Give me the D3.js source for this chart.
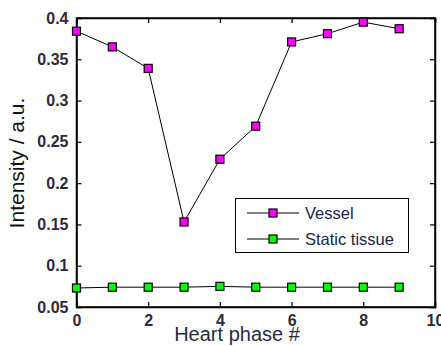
<!DOCTYPE html>
<html><head><meta charset="utf-8">
<script src="https://cdn.jsdelivr.net/npm/d3@7"></script>
<style>body{margin:0;background:#fff}svg{display:block}</style>
</head><body>
<svg id="c" width="441" height="346"></svg>
<script>
const phases = [0,1,2,3,4,5,6,7,8,9];
const vessel = [0.384,0.365,0.339,0.153,0.229,0.269,0.371,0.381,0.395,0.387];
const staticTissue = [0.073,0.074,0.074,0.074,0.075,0.074,0.074,0.074,0.074,0.074];
const xTicks = [0,2,4,6,8,10];
const yTicks = [0.05,0.1,0.15,0.2,0.25,0.3,0.35,0.4];
const seriesNames = ["Vessel","Static tissue"];
const seriesColors = ["#ff00ff","#00ff00"];

const svg = d3.select("#c");
const L=76.5, R=435, T=18, B=307;
const x = d3.scaleLinear().domain([0,10]).range([L,R]);
const y = d3.scaleLinear().domain([0.05,0.4]).range([B,T]);

// frame
svg.append("rect").attr("x",L).attr("y",T).attr("width",R-L).attr("height",B-T)
  .attr("fill","none").attr("stroke","#000").attr("stroke-width",1.5);

const tickCol="#2b2b3b";
const fmt = d=>String(d);
// bottom axis (ticks inward)
const gx = svg.append("g").attr("transform",`translate(0,${B})`)
  .call(d3.axisBottom(x).tickValues(xTicks).tickSize(-5).tickPadding(10).tickFormat(fmt));
// top ticks
svg.append("g").attr("transform",`translate(0,${T})`)
  .call(d3.axisTop(x).tickValues(xTicks).tickSize(-5).tickFormat(""));
const gy = svg.append("g").attr("transform",`translate(${L},0)`)
  .call(d3.axisLeft(y).tickValues(yTicks).tickSize(-5).tickPadding(8).tickFormat(fmt));
svg.append("g").attr("transform",`translate(${R},0)`)
  .call(d3.axisRight(y).tickValues(yTicks).tickSize(-5).tickFormat(""));
svg.selectAll(".domain").attr("stroke","#000").attr("stroke-width",1.5);
svg.selectAll(".tick line").attr("stroke","#000").attr("stroke-width",1.2);
svg.selectAll(".tick text").attr("font-family","Arial, 'Liberation Sans', sans-serif")
  .attr("font-size",16).attr("font-weight","bold").attr("fill",tickCol);
gx.selectAll(".tick text").attr("dy","0.55em");

// lines & markers
const data = [vessel, staticTissue];
const line = d3.line().x((d,i)=>x(phases[i])).y(d=>y(d));
data.forEach((s,k)=>{
  svg.append("path").datum(s).attr("d",line).attr("fill","none")
    .attr("stroke","#000").attr("stroke-width",1);
  svg.selectAll(null).data(s).enter().append("rect")
    .attr("x",(d,i)=>x(phases[i])-4).attr("y",d=>y(d)-4)
    .attr("width",8).attr("height",8)
    .attr("fill",seriesColors[k]).attr("stroke","#000").attr("stroke-width",1.2);
});

// legend
const lg = svg.append("g");
lg.append("rect").attr("x",235.5).attr("y",198.5).attr("width",173).attr("height",54)
  .attr("fill","#fff").attr("stroke","#000").attr("stroke-width",1);
seriesNames.forEach((n,k)=>{
  const yy = 213 + k*26;
  lg.append("line").attr("x1",247).attr("x2",299).attr("y1",yy).attr("y2",yy)
    .attr("stroke","#000").attr("stroke-width",1);
  lg.append("rect").attr("x",269).attr("y",yy-4).attr("width",8).attr("height",8)
    .attr("fill",seriesColors[k]).attr("stroke","#000").attr("stroke-width",1.2);
  lg.append("text").attr("x",305).attr("y",yy+6).text(n)
    .attr("font-family","Arial, 'Liberation Sans', sans-serif").attr("font-size",16.5)
    .attr("fill","#1c2448");
});

// axis labels
svg.append("text").attr("x",237).attr("y",341).attr("text-anchor","middle")
  .attr("font-family","Arial, 'Liberation Sans', sans-serif").attr("font-size",20)
  .attr("fill","#262c44").text("Heart phase #");
svg.append("text").attr("transform","translate(24,163) rotate(-90)").attr("text-anchor","middle")
  .attr("font-family","Arial, 'Liberation Sans', sans-serif").attr("font-size",21)
  .attr("fill","#111").text("Intensity / a.u.");
</script>
</body></html>
